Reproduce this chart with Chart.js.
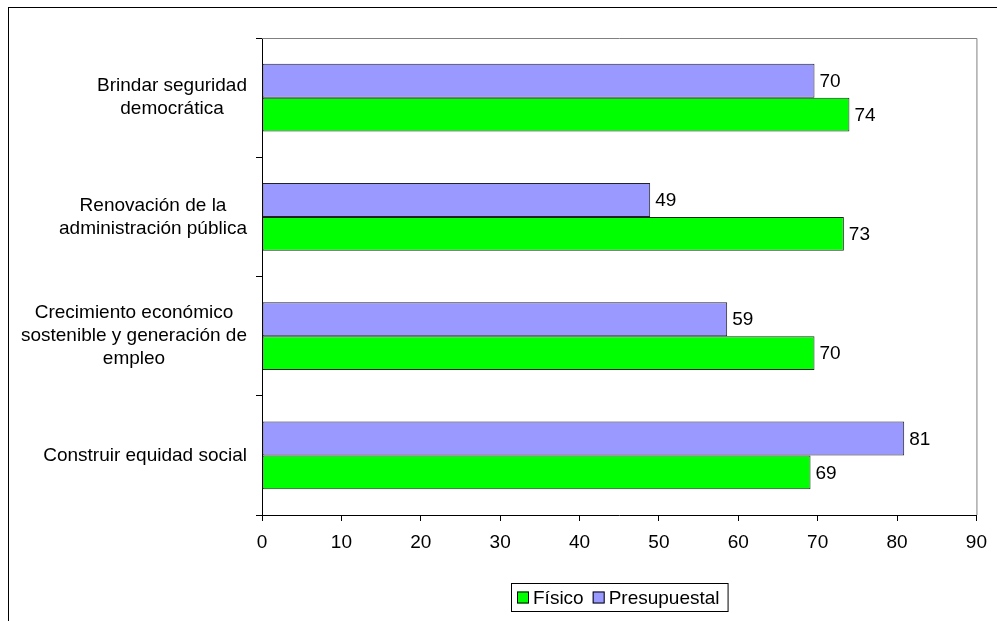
<!DOCTYPE html>
<html>
<head>
<meta charset="utf-8">
<script src="https://cdn.jsdelivr.net/npm/chart.js@4.4.0/dist/chart.umd.min.js"></script>
<style>
html,body{margin:0;padding:0;background:#fff;}
canvas{display:block;}
</style>
</head>
<body>
<canvas id="c" width="997" height="621"></canvas>
<script>
const categories = [
  ["Brindar seguridad", "democrática"],
  ["Renovación de la", "administración pública"],
  ["Crecimiento económico", "sostenible y generación de", "empleo"],
  ["Construir equidad social"]
];
const fisico = [74.0, 73.3, 69.6, 69.1];
const presupuestal = [69.6, 48.9, 58.6, 80.9];
const xTicksMin = 0, xTicksMax = 90, xTicksStep = 10;

const FONT = "'Liberation Sans', Arial, sans-serif";
Chart.defaults.font.family = FONT;
Chart.defaults.font.size = 19;
Chart.defaults.color = '#000';

const framePlugin = {
  id: 'frame',
  beforeDraw(chart) {
    const ctx = chart.ctx;
    ctx.save();
    ctx.fillStyle = '#fff';
    ctx.fillRect(0, 0, chart.width, chart.height);
    ctx.strokeStyle = '#000';
    ctx.lineWidth = 1;
    ctx.strokeRect(8.5, 7.5, 1100, 800);
    ctx.restore();
  },
  beforeDatasetsDraw(chart) {
    const a = chart.chartArea, ctx = chart.ctx;
    ctx.save();
    ctx.strokeStyle = '#808080';
    ctx.lineWidth = 1;
    ctx.beginPath();
    ctx.moveTo(a.left, a.top + 0.5);
    ctx.lineTo(a.right + 0.5, a.top + 0.5);
    ctx.lineTo(a.right + 0.5, a.bottom);
    ctx.stroke();
    ctx.restore();
  },
  afterDatasetsDraw(chart) {
    const ctx = chart.ctx;
    ctx.save();
    ctx.font = '19px ' + FONT;
    ctx.fillStyle = '#000';
    ctx.textBaseline = 'middle';
    ctx.textAlign = 'left';
    chart.data.datasets.forEach((ds, i) => {
      chart.getDatasetMeta(i).data.forEach((el, j) => {
        ctx.fillText(String(Math.round(ds.data[j])), el.x + 5, el.y + 1);
      });
    });
    // category labels: block right-aligned, lines centered
    const ys = chart.scales.y;
    const rightEdge = ys.right - 15;
    const lh = 23;
    categories.forEach((lines, i) => {
      const cy = ys.getPixelForValue(i);
      let maxW = 0;
      lines.forEach(l => { maxW = Math.max(maxW, ctx.measureText(l).width); });
      const cx = rightEdge - maxW / 2;
      ctx.textAlign = 'center';
      lines.forEach((l, k) => {
        ctx.fillText(l, cx, cy + (k - (lines.length - 1) / 2) * lh);
      });
    });
    ctx.restore();
  },
  afterDraw(chart) {
    const ctx = chart.ctx;
    ctx.save();
    ctx.font = '19px ' + FONT;
    ctx.textBaseline = 'middle';
    ctx.textAlign = 'left';
    const items = [chart.data.datasets[1], chart.data.datasets[0]];
    const box = 12, gapText = 4, gapItem = 9, padL = 6, padR = 8;
    let total = padL;
    items.forEach((d, i) => {
      total += box + gapText + ctx.measureText(d.label).width + (i < items.length - 1 ? gapItem : 0);
    });
    total += padR;
    const a = chart.chartArea;
    const left = Math.round((a.left + a.right) / 2 - total / 2);
    const top = 583, h = 28;
    ctx.strokeStyle = '#000';
    ctx.lineWidth = 1;
    ctx.strokeRect(left + 0.5, top + 0.5, total, h);
    let x = left + padL;
    const cy = top + h / 2 + 0.5;
    items.forEach((d) => {
      ctx.fillStyle = d.backgroundColor;
      ctx.fillRect(x, cy - 6, box, box);
      ctx.strokeStyle = '#000';
      ctx.strokeRect(x + 0.5, cy - 6 + 0.5, box - 1, box - 1);
      x += box + gapText;
      ctx.fillStyle = '#000';
      ctx.fillText(d.label, x, cy + 1);
      x += ctx.measureText(d.label).width + gapItem;
    });
    ctx.restore();
  }
};

new Chart(document.getElementById('c'), {
  type: 'bar',
  data: {
    labels: categories,
    datasets: [
      { label: 'Presupuestal', data: presupuestal, backgroundColor: '#9999FF', borderColor: '#222', borderWidth: 1, borderSkipped: false },
      { label: 'Físico', data: fisico, backgroundColor: '#00FF00', borderColor: '#222', borderWidth: 1, borderSkipped: false }
    ]
  },
  options: {
    indexAxis: 'y',
    responsive: false,
    animation: false,
    devicePixelRatio: 1,
    layout: { padding: { top: 38, right: 19, left: 0, bottom: 0 } },
    datasets: { bar: { barPercentage: 1.0, categoryPercentage: 0.57 } },
    plugins: { legend: { display: false }, tooltip: { enabled: false } },
    scales: {
      x: {
        type: 'linear',
        min: xTicksMin, max: xTicksMax,
        ticks: { stepSize: xTicksStep, padding: 10, color: '#000', font: { size: 19 } },
        grid: { drawOnChartArea: false, tickLength: 6, color: '#000' },
        border: { color: '#000' },
        afterFit(s) { s.height = 106; }
      },
      y: {
        type: 'category',
        ticks: { display: false },
        grid: { offset: true, drawOnChartArea: false, tickLength: 6, color: '#000' },
        border: { color: '#000' },
        afterFit(s) { s.width = 262; }
      }
    }
  },
  plugins: [framePlugin]
});
</script>
</body>
</html>
